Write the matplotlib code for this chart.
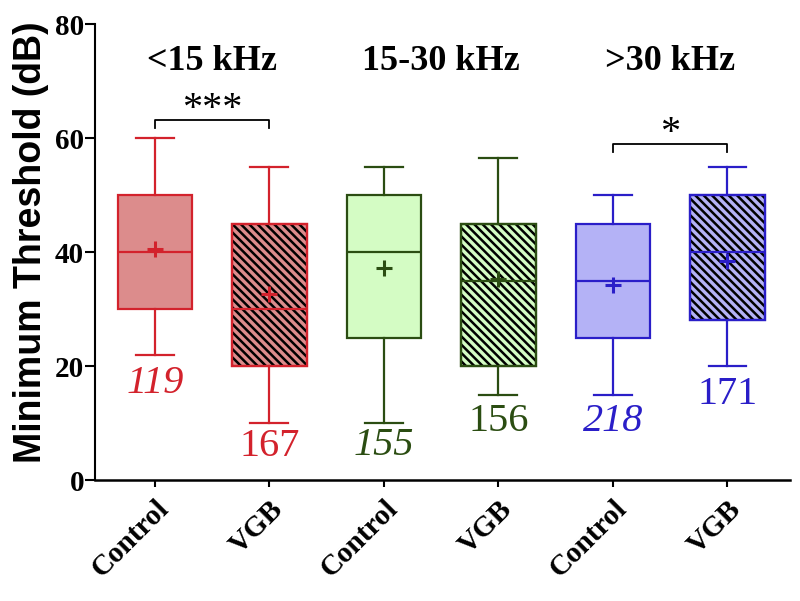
import matplotlib
matplotlib.use("Agg")
import matplotlib.pyplot as plt
from matplotlib.patches import Rectangle

# box statistics (dB)
groups = ["Control", "VGB", "Control", "VGB", "Control", "VGB"]
whis_lo = [22, 10, 10, 15, 15, 20]
q1 = [30, 20, 25, 20, 25, 28]
median = [40, 30, 40, 35, 35, 40]
q3 = [50, 45, 50, 45, 45, 50]
whis_hi = [60, 55, 55, 56.5, 50, 55]
means = [40.5, 32.6, 37.2, 35.2, 34.2, 38.5]
counts = ["119", "167", "155", "156", "218", "171"]
count_y = [17, 5.8, 6, 10.2, 10.2, 15]
count_italic = [True, False, True, False, True, False]
bands = ["<15 kHz", "15-30 kHz", ">30 kHz"]

edge_cols = ["#d3222c", "#d3222c", "#2b4d12", "#2b4d12", "#2a1ec8", "#2a1ec8"]
face_cols = ["#dc8c8c", "#dc8c8c", "#d4fcc4", "#d4fcc4", "#b4b2f6", "#b4b2f6"]

plt.rcParams['hatch.linewidth'] = 1.8
serif = "Liberation Serif"

fig = plt.figure(figsize=(8, 6.01), dpi=100)
ax = fig.add_axes([0.119, 0.2013, 0.869, 0.7587])

pos = list(range(1, 7))
stats = []
for i in range(6):
    stats.append(dict(med=median[i], q1=q1[i], q3=q3[i], whislo=whis_lo[i],
                      whishi=whis_hi[i], mean=means[i], fliers=[]))

bp = ax.bxp(stats, positions=pos, widths=0.65, capwidths=0.33,
            patch_artist=True, showmeans=True, showfliers=False)

for i in range(6):
    ec = edge_cols[i]
    box = bp['boxes'][i]
    box.set_facecolor(face_cols[i])
    box.set_edgecolor(ec)
    box.set_linewidth(1.6)
    bp['medians'][i].set(color=ec, linewidth=1.6, zorder=4)
    for w in bp['whiskers'][2 * i:2 * i + 2]:
        w.set(color=ec, linewidth=1.6)
    for c in bp['caps'][2 * i:2 * i + 2]:
        c.set(color=ec, linewidth=1.6)
    bp['means'][i].set(marker='+', markersize=12, markeredgewidth=2.2,
                       markeredgecolor=ec, zorder=5)
    if groups[i] == "VGB":
        # black hatching over the coloured fill
        ax.add_patch(Rectangle((pos[i] - 0.325, q1[i]), 0.65, q3[i] - q1[i],
                               fill=False, hatch='\\\\\\\\', edgecolor='black',
                               linewidth=0, zorder=3))
        ax.add_patch(Rectangle((pos[i] - 0.325, q1[i]), 0.65, q3[i] - q1[i],
                               fill=False, edgecolor=ec, linewidth=1.6, zorder=4))
    ax.text(pos[i], count_y[i], counts[i], color=ec, ha='center', va='center',
            fontsize=29, family=serif,
            style='italic' if count_italic[i] else 'normal')

# frequency band headers
for j, b in enumerate(bands):
    ax.text(1.5 + 2 * j, 73.5, b, ha='center', va='center', fontsize=26,
            fontweight='bold', family=serif)

# significance brackets
ax.plot([1, 1, 2, 2], [61.8, 63.2, 63.2, 61.8], color='black', lw=1.3)
ax.text(1.5, 65.0, "***", ha='center', va='center', fontsize=29, family=serif)
ax.plot([5, 5, 6, 6], [57.5, 59, 59, 57.5], color='black', lw=1.3)
ax.text(5.5, 60.8, "*", ha='center', va='center', fontsize=29, family=serif)

ax.set_xlim(0.48, 6.55)
ax.set_ylim(0, 80)
ax.set_yticks([0, 20, 40, 60, 80])
ax.set_xticks(pos)
ax.set_xticklabels(groups, rotation=45, ha='right', va='top',
                   rotation_mode='anchor', fontsize=21, fontweight='bold',
                   family=serif)
for lab in ax.get_yticklabels():
    lab.set_fontsize(21)
    lab.set_fontweight('bold')
    lab.set_family(serif)
ax.set_ylabel("Minimum Threshold (dB)", fontsize=27, fontweight='bold',
              family="Liberation Sans")
ax.yaxis.set_label_coords(-0.067, 0.522)

ax.spines['top'].set_visible(False)
ax.spines['right'].set_visible(False)
ax.spines['left'].set_linewidth(1.5)
ax.spines['bottom'].set_linewidth(1.8)
ax.tick_params(axis='y', length=7, width=1.5, pad=1)
ax.tick_params(axis='x', length=5, width=1.5, pad=6)

fig.savefig("out.png", dpi=100)
